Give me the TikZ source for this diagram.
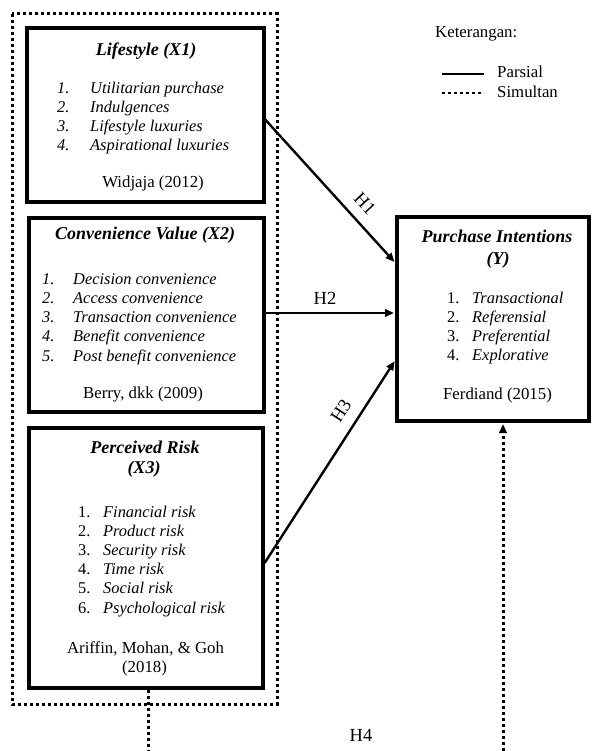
\documentclass[tikz,border=0pt]{standalone}
\usepackage{fontspec}
\setmainfont{Liberation Serif}
\usetikzlibrary{arrows.meta}
\begin{document}
\begin{tikzpicture}[x=1pt,y=-1pt,
  box/.style={draw,line width=3.2pt,inner sep=0pt},
  txt/.style={inner sep=0pt,font=\fontsize{16.4}{19}\selectfont,anchor=base west},
  ttl/.style={inner sep=0pt,font=\fontsize{18}{20}\selectfont\bfseries\itshape,anchor=base},
  cite/.style={inner sep=0pt,font=\fontsize{16.8}{20}\selectfont,anchor=base},
  lgd/.style={inner sep=0pt,font=\fontsize{16.8}{20}\selectfont,anchor=base west},
  hlab/.style={inner sep=0pt,font=\fontsize{18.5}{20}\selectfont},
  arr/.style={line width=2.4pt,shorten >=1.4pt,-{Triangle[length=9pt,width=7.5pt]}},
  dots/.style={line width=3pt,dash pattern=on 3pt off 3pt}]
\useasboundingbox (0,0) rectangle (592,751);

% outer dotted frame
\coordinate (fr1) at (12,14);
\coordinate (fr2) at (277,704);
\draw[dots] (fr1) rectangle (fr2);

% boxes
\node[box,minimum width=237,minimum height=174] (x1) at (145.5,115) {};
\node[box,minimum width=235,minimum height=194] (x2) at (146.5,315) {};
\node[box,minimum width=234,minimum height=260] (x3) at (146,558) {};
\node[box,minimum width=192,minimum height=204] (y) at (493,319) {};

% Lifestyle
\node[ttl] (x1t) at (146,56) {Lifestyle (X1)};
\foreach \n/\t [count=\i] in {1./Utilitarian purchase,2./Indulgences,3./Lifestyle luxuries,4./Aspirational luxuries}{
  \node[txt] (x1n\i) at (57,{94+19*(\i-1)}) {\textit{\n}};
  \node[txt] (x1i\i) at (90,{94+19*(\i-1)}) {\textit{\t}};
}
\node[cite] (x1c) at (153,188) {Widjaja (2012)};

% Convenience Value
\node[ttl] (x2t) at (145,239) {Convenience Value (X2)};
\foreach \n/\t [count=\i] in {1./Decision convenience,2./Access convenience,3./Transaction convenience,4./Benefit convenience,5./Post benefit convenience}{
  \node[txt] (x2n\i) at (42,{284+19.25*(\i-1)}) {\textit{\n}};
  \node[txt] (x2i\i) at (73,{284+19.25*(\i-1)}) {\textit{\t}};
}
\node[cite] (x2c) at (143,398) {Berry, dkk (2009)};

% Perceived Risk
\node[ttl] (x3t) at (145,453) {Perceived Risk};
\node[ttl] (x3t2) at (144,473) {(X3)};
\foreach \n/\t [count=\i] in {1./Financial risk,2./Product risk,3./Security risk,4./Time risk,5./Social risk,6./Psychological risk}{
  \node[txt] (x3n\i) at (78,{517+19.2*(\i-1)}) {\n};
  \node[txt] (x3i\i) at (103,{517+19.2*(\i-1)}) {\textit{\t}};
}
\node[cite] (x3c) at (145.5,653) {Ariffin, Mohan, \& Goh};
\node[cite] (x3c2) at (144.5,672) {(2018)};

% Purchase Intentions
\node[ttl] (yt) at (497,242) {Purchase Intentions};
\node[ttl] (yt2) at (498,264) {(Y)};
\foreach \n/\t [count=\i] in {1./Transactional,2./Referensial,3./Preferential,4./Explorative}{
  \node[txt] (yn\i) at (447,{303+19.3*(\i-1)}) {\n};
  \node[txt] (yi\i) at (472,{303+19.3*(\i-1)}) {\textit{\t}};
}
\node[cite] (yc) at (497.5,399) {Ferdiand (2015)};

% legend
\node[lgd] (ket) at (435,38) {Keterangan:};
\coordinate (lp1) at (442,74);
\coordinate (lp2) at (484,74);
\draw[line width=2.4pt] (lp1) -- (lp2);
\node[lgd] (lpar) at (497,78) {Parsial};
\coordinate (ls1) at (442,93);
\coordinate (ls2) at (484,93);
\draw[line width=2.6pt,dash pattern=on 3pt off 3pt] (ls1) -- (ls2);
\node[lgd] (lsim) at (497,98) {Simultan};

% partial arrows
\draw[arr] (x1.east |- 0,120) -- (y.west |- 0,263);
\draw[arr] (x2.east |- 0,313) -- (y.west |- 0,313);
\draw[arr] (x3.east |- 0,563) -- (y.west |- 0,360);
\node[hlab,rotate=-47] (h1) at (365,204) {H1};
\node[hlab] (h2) at (325,298) {H2};
\node[hlab,rotate=57] (h3) at (341,411) {H3};
\node[hlab] (h4) at (361,735) {H4};

% simultaneous
\coordinate (s1) at (148,751);
\draw[dots] (x3.south -| s1) -- (s1);
\coordinate (s2) at (503,751);
\draw[dots,shorten >=1.4pt,-{Triangle[length=9pt,width=7.5pt]}] (s2) -- (y.south -| s2);
\end{tikzpicture}
\end{document}
